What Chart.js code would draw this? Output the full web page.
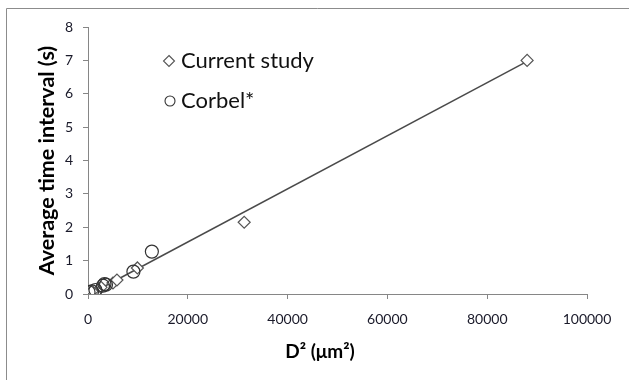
<!DOCTYPE html>
<html><head><meta charset="utf-8">
<script src="https://cdn.jsdelivr.net/npm/chart.js@4/dist/chart.umd.min.js"></script>
<style>html,body{margin:0;padding:0;background:#fff;}#wrap{width:629px;height:380px;position:relative;}</style>
</head><body><div id="wrap"><canvas id="c" width="629" height="380"></canvas></div>
<script>
// Data
const currentX = [800, 2600, 5000, 5800, 9900, 31300, 88000];
const currentY = [0.08, 0.2, 0.33, 0.42, 0.78, 2.15, 7.0];
const corbelX = [100, 800, 1500, 3000, 3300, 3600, 9100, 12800];
const corbelY = [0.06, 0.08, 0.12, 0.25, 0.3, 0.28, 0.67, 1.27];
const trendX = [800, 88000];
const trendY = [0.03, 6.97];
const seriesNames = ["Current study", "Corbel*"];
const xTitle = "D\u00B2 (\u03BCm\u00B2)";
const yTitle = "Average time interval (s)";

const pts = (xs, ys) => xs.map((x, i) => ({x: x, y: ys[i]}));
const FONT = "Lato, 'Open Sans', sans-serif";

const frame = {
  id: 'frame',
  beforeDraw(chart) {
    const ctx = chart.ctx;
    ctx.save();
    ctx.strokeStyle = '#8c8c8c';
    ctx.lineWidth = 1;
    ctx.beginPath();
    ctx.moveTo(6.5, 380);
    ctx.lineTo(6.5, 8.5);
    ctx.lineTo(629, 8.5);
    ctx.stroke();
    ctx.restore();
  }
};

const extras = {
  id: 'extras',
  afterDraw(chart) {
    const ctx = chart.ctx;
    ctx.save();
    // x axis title
    ctx.font = "bold 19px " + FONT;
    ctx.fillStyle = '#000';
    ctx.textAlign = 'center';
    ctx.textBaseline = 'middle';
    ctx.fillText(xTitle, 320, 352);
    // inner legend
    ctx.font = "22px " + FONT;
    ctx.textAlign = 'left';
    const items = [
      {ds: 1, y: 61, name: seriesNames[0]},
      {ds: 2, y: 101, name: seriesNames[1]}
    ];
    items.forEach(it => {
      const d = chart.data.datasets[it.ds];
      ctx.strokeStyle = d.borderColor; ctx.lineWidth = 1.1;
      ctx.fillStyle = '#fff';
      ctx.beginPath();
      if (d.pointStyle === 'circle') { ctx.arc(170, it.y, 5, 0, Math.PI*2); }
      else { ctx.moveTo(169, it.y-5.5); ctx.lineTo(174.5, it.y); ctx.lineTo(169, it.y+5.5); ctx.lineTo(163.5, it.y); ctx.closePath(); }
      ctx.fill(); ctx.stroke();
      ctx.fillStyle = '#111';
      ctx.fillText(it.name, 181, it.y);
    });
    ctx.restore();
  }
};

new Chart(document.getElementById('c'), {
  type: 'scatter',
  data: {
    datasets: [
      {label: 'trend', data: pts(trendX, trendY), showLine: true, borderColor: '#4a4a4a', borderWidth: 1.5, pointRadius: 0, order: 3},
      {label: seriesNames[0], data: pts(currentX, currentY), pointStyle: 'rectRot', pointRadius: 6, borderColor: '#555', backgroundColor: '#fff', borderWidth: 1.2, order: 2},
      {label: seriesNames[1], data: pts(corbelX, corbelY), pointStyle: 'circle', pointRadius: 6.5, borderColor: '#333', backgroundColor: 'rgba(255,255,255,0)', borderWidth: 1.2, order: 1}
    ]
  },
  options: {
    responsive: false, animation: false,
    layout: {padding: {left: 34, top: 27, right: 42, bottom: 0}},
    plugins: {legend: {display: false}, tooltip: {enabled: false}},
    scales: {
      x: {
        type: 'linear', min: 0, max: 100000,
        ticks: {stepSize: 20000, color: '#1a1a2a', font: {family: FONT, size: 14}, padding: 12, maxRotation: 0, callback: v => String(v)},
        grid: {drawOnChartArea: false, tickLength: 5, color: '#868686'},
        border: {color: '#868686'},
        afterFit: s => { s.height = 86; }
      },
      y: {
        type: 'linear', min: 0, max: 8,
        ticks: {stepSize: 1, color: '#1a1a2a', font: {family: FONT, size: 14}, padding: 10},
        grid: {drawOnChartArea: false, tickLength: 5, color: '#868686'},
        border: {color: '#868686'},
        title: {display: true, text: yTitle, color: '#000', font: {family: FONT, size: 21.5, weight: 'bold'}, padding: {top: 0, bottom: 0}},
        afterFit: s => { s.width = 54; }
      }
    }
  },
  plugins: [frame, extras]
});
</script>
</body></html>
